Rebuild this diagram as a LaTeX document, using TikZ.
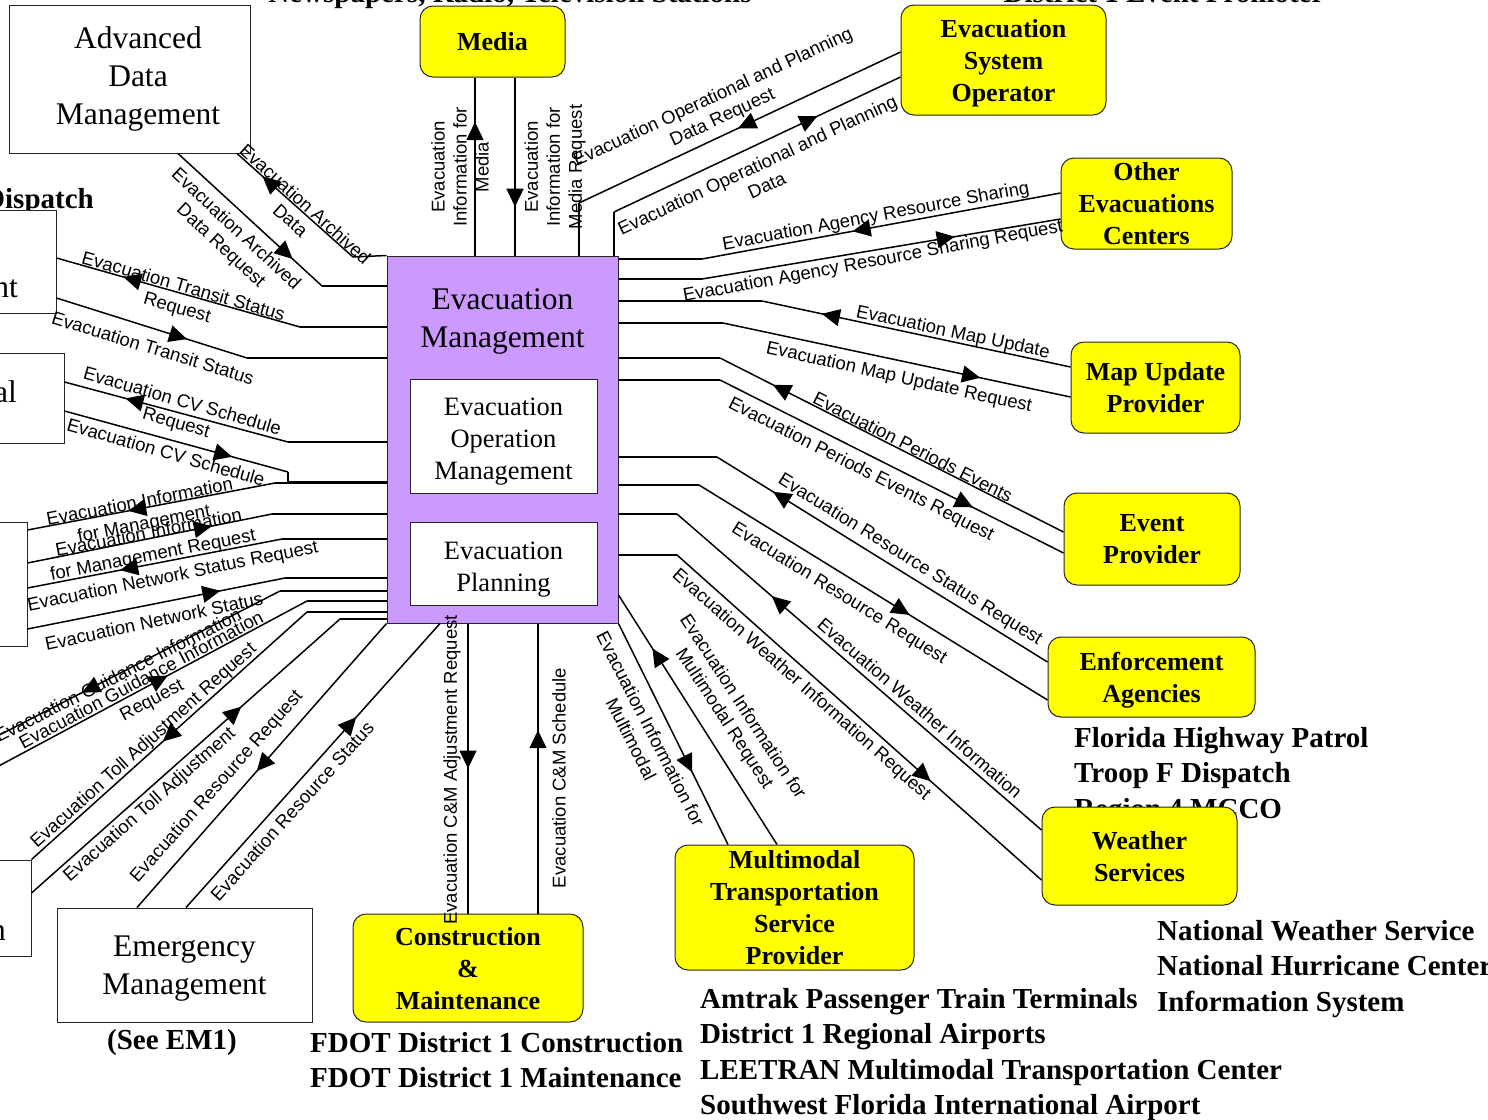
\documentclass[tikz,border=0pt]{standalone}
\usepackage{fontspec}
\setmainfont{Liberation Serif}
\newfontfamily\flowfont{Liberation Sans}
\usetikzlibrary{arrows.meta,decorations.markings}
\definecolor{emviolet}{RGB}{204,153,255}
\definecolor{termyellow}{RGB}{255,255,0}
\begin{document}
\begin{tikzpicture}[x=1pt,y=-1pt,
  flow/.style={line width=1.5pt},
  tipat/.style={postaction={decorate,decoration={markings,mark=at position #1 with {\arrow{Triangle[length=18pt,width=17pt]}}}}},
  sysbox/.style={draw=black!85,line width=1pt,fill=white,inner sep=0pt,align=center,text depth=0pt,font=\fontsize{31.5}{38}\selectfont},
  systitle/.style={inner sep=0pt,align=center,font=\fontsize{31.5}{38}\selectfont},
  subtitle/.style={inner sep=0pt,align=center,font=\fontsize{26.5}{32}\selectfont},
  subbox/.style={draw=black!85,line width=1pt,fill=white,inner sep=0pt},
  termbox/.style={draw=black!85,line width=1pt,fill=termyellow,rounded corners=13pt,inner sep=0pt,align=center,text depth=0pt,font=\bfseries\fontsize{26}{32}\selectfont},
  flowlabel/.style={inner sep=0pt,align=center,font=\flowfont\fontsize{18.5}{22}\selectfont},
  sitelist/.style={inner sep=0pt,align=left,font=\bfseries\fontsize{29}{35.5}\selectfont},
]
\useasboundingbox (0,0) rectangle (1488,1119);
\fill[white] (0,0) rectangle (1488,1119);
\clip (0,0) rectangle (1488,1119);

% ---------- site lists under the terminators ----------
\node[sitelist,anchor=base] (newsp) at (510,2) {Newspapers, Radio, Television Stations};
\node[sitelist,anchor=base] (promo) at (1164,2) {District 1 Event Promoter};
\node[sitelist,anchor=base east] (disp) at (94,208) {Dispatch};
\node[sitelist,anchor=west] (fhp) at (1074,776) {Florida Highway Patrol\\Troop F Dispatch\\Region 4 MCCO};
\node[sitelist,anchor=west] (nws) at (1157,969) {National Weather Service\\National Hurricane Center\\Information System};
\node[sitelist,anchor=west] (amtrak) at (700,1054.5) {Amtrak Passenger Train Terminals\\District 1 Regional Airports\\LEETRAN Multimodal Transportation Center\\Southwest Florida International Airport};
\node[sitelist,anchor=west] (fdot) at (310,1060) {FDOT District 1 Construction\\FDOT District 1 Maintenance};
\node[sitelist] (seeem) at (172,1043) {(See EM1)};

% ---------- subsystems ----------
\node[sysbox,minimum width=241pt,minimum height=148pt] (adm) at (129.5,79) {};
\node[systitle] (admtxt) at (138,79) {Advanced\\Data\\Management};
\node[sysbox,minimum width=255pt,minimum height=114pt] (eman) at (184.5,965) {Emergency\\Management};
\node[sysbox,minimum width=86pt,minimum height=103pt] (lb1) at (13,261.5) {};
\node[sysbox,minimum width=94pt,minimum height=90pt] (lb2) at (17,398) {};
\node[sysbox,minimum width=57pt,minimum height=124pt] (lb3) at (-1.5,584) {};
\node[sysbox,minimum width=61pt,minimum height=96pt] (lb4) at (0.5,908) {};
\node[systitle,anchor=base east] (lb1txt) at (18,297) {nt};
\node[systitle,anchor=base east] (lb2txt) at (17,402) {al};
\node[systitle,anchor=base east] (lb4txt) at (6,940) {n};

\node[draw=black!85,line width=1pt,fill=emviolet,minimum width=231pt,minimum height=367pt,inner sep=0pt] (em) at (502.5,439.5) {};
\node[systitle] (emtitle) at (502.5,321) {Evacuation\\Management};
\node[subbox,minimum width=187pt,minimum height=114pt] (eom) at (503.5,436) {};
\node[subtitle] (eomtxt) at (503.5,442) {Evacuation\\Operation\\Management};
\node[subbox,minimum width=187pt,minimum height=83pt] (epl) at (503.5,563.5) {};
\node[subtitle] (epltxt) at (503.5,569.5) {Evacuation\\Planning};

% ---------- terminators ----------
\node[termbox,minimum width=145pt,minimum height=71pt] (media) at (492.5,41.5) {Media};
\node[termbox,minimum width=205pt,minimum height=110pt] (eso) at (1003.5,60) {Evacuation\\System\\Operator};
\node[termbox,minimum width=171pt,minimum height=91pt] (oec) at (1146.5,203.5) {Other\\Evacuations\\Centers};
\node[termbox,minimum width=169pt,minimum height=91pt] (mup) at (1155.5,387.5) {Map Update\\Provider};
\node[termbox,minimum width=176pt,minimum height=92pt] (evp) at (1152,539) {Event\\Provider};
\node[termbox,minimum width=207pt,minimum height=80pt] (ena) at (1151.5,677) {Enforcement\\Agencies};
\node[termbox,minimum width=195pt,minimum height=98pt] (ws) at (1139.5,856) {Weather\\Services};
\node[termbox,minimum width=239pt,minimum height=125pt] (mtsp) at (794.5,907.5) {Multimodal\\Transportation\\Service\\Provider};
\node[termbox,minimum width=230pt,minimum height=108pt] (cm) at (468,968) {Construction\\\&\\Maintenance};

% ---------- bend points ----------
\coordinate (b3) at (579,203);
\coordinate (b4) at (614,212);
\coordinate (b5) at (702,259);
\coordinate (b6) at (702,279);
\coordinate (b7) at (762,301);
\coordinate (b8) at (723,323);
\coordinate (b9) at (720,358);
\coordinate (b10) at (720,380);
\coordinate (b11) at (717,457);
\coordinate (b12) at (699,485);
\coordinate (b13) at (677,514);
\coordinate (b14) at (677,555);
\coordinate (b21) at (340,619);
\coordinate (b22) at (307,612);
\coordinate (o23) at (-20,776);
\coordinate (b23) at (307,601);
\coordinate (b24) at (280,591);
\coordinate (o24) at (-20,745);
\coordinate (b25) at (285,578);
\coordinate (b26) at (282,539);
\coordinate (b27) at (272,514);
\coordinate (b28) at (275,483);
\coordinate (b29) at (288,472);
\coordinate (b29b) at (288,482);
\coordinate (b30) at (288,442);
\coordinate (b31) at (247,358);
\coordinate (b32) at (300,327);
\coordinate (b33) at (353,257);
\coordinate (b34) at (322,286);

% ---------- flows: top ----------
\draw[flow,tipat=0.75] (em.north -| 475,0) -- (media.south -| 475,0);
\draw[flow,tipat=0.726] (media.south -| 515,0) -- (em.north -| 515,0);
\draw[flow,tipat=0.505] (eso.west |- 0,52) -- (b3);
\draw[flow] (b3) -- (em.north -| b3);
\draw[flow] (em.north -| b4) -- (b4);
\draw[flow,tipat=0.71] (b4) -- (eso.west |- 0,77);

% ---------- flows: right ----------
\draw[flow,tipat=0.58] (oec.west |- 0,193) -- (b5);
\draw[flow] (b5) -- (em.east |- b5);
\draw[flow] (em.east |- b6) -- (b6);
\draw[flow,tipat=0.705] (b6) -- (oec.west |- 0,219);
\draw[flow,tipat=0.806] (mup.west |- 0,367) -- (b7);
\draw[flow] (b7) -- (em.east |- b7);
\draw[flow] (em.east |- b8) -- (b8);
\draw[flow,tipat=0.74] (b8) -- (mup.west |- 0,397);
\draw[flow,tipat=0.846] (evp.west |- 0,532) -- (b9);
\draw[flow] (b9) -- (em.east |- b9);
\draw[flow] (em.east |- b10) -- (b10);
\draw[flow,tipat=0.736] (b10) -- (evp.west |- 0,553);
\draw[flow,tipat=0.83] (ena.west |- 0,662) -- (b11);
\draw[flow] (b11) -- (em.east |- b11);
\draw[flow] (em.east |- b12) -- (b12);
\draw[flow,tipat=0.604] (b12) -- (ena.west |- 0,700);
\draw[flow,tipat=0.74] (ws.west |- 0,830) -- (b13);
\draw[flow] (b13) -- (em.east |- b13);
\draw[flow] (em.east |- b14) -- (b14);
\draw[flow,tipat=0.696] (b14) -- (ws.west |- 0,880);
\draw[flow,tipat=0.786] (mtsp.north -| 777,0) -- (em.east |- 0,595);
\draw[flow,tipat=0.673] (em.south east) -- (mtsp.north -| 728,0);

% ---------- flows: bottom ----------
\draw[flow,tipat=0.50] (em.south -| 468,0) -- (cm.north -| 468,0);
\draw[flow,tipat=0.632] (cm.north -| 538,0) -- (em.south -| 538,0);
\draw[flow,tipat=0.67] (eman.north -| 186,0) -- (em.south -| 440,0);
\draw[flow,tipat=0.52] (em.south west) -- (eman.north -| 137,0);

% ---------- flows: left ----------
\draw[flow,tipat=0.68] (lb4.east |- 0,893) -- (b21);
\draw[flow] (b21) -- (em.west |- b21);
\draw[flow] (em.west |- b22) -- (b22);
\draw[flow,tipat=0.523] (b22) -- (lb4.north east);
\draw[flow,tipat=0.574] (o23) -- (b23);
\draw[flow] (b23) -- (em.west |- b23);
\draw[flow] (em.west |- b24) -- (b24);
\draw[flow,tipat=0.66] (b24) -- (o24);
\draw[flow,tipat=0.749] (lb3.east |- 0,629) -- (b25);
\draw[flow] (b25) -- (em.west |- b25);
\draw[flow] (em.west |- b26) -- (b26);
\draw[flow,tipat=0.636] (b26) -- (lb3.east |- 0,588);
\draw[flow,tipat=0.754] (lb3.east |- 0,563) -- (b27);
\draw[flow] (b27) -- (em.west |- b27);
\draw[flow] (em.west |- b28) -- (b28);
\draw[flow,tipat=0.593] (b28) -- (lb3.east |- 0,530);
\draw[flow,tipat=0.75] (lb2.east |- 0,411) -- (b29);
\draw[flow] (b29) -- (b29b) -- (em.west |- b29b);
\draw[flow] (em.west |- b30) -- (b30);
\draw[flow,tipat=0.727] (b30) -- (lb2.east |- 0,382);
\draw[flow,tipat=0.685] (lb1.east |- 0,298) -- (b31);
\draw[flow] (b31) -- (em.west |- b31);
\draw[flow] (em.west |- b32) -- (b32);
\draw[flow,tipat=0.726] (b32) -- (lb1.east |- 0,258);
\draw[flow] (em.north west) -- (b33);
\draw[flow,tipat=0.78] (b33) -- (adm.south -| 237,0);
\draw[flow,tipat=0.796] (adm.south -| 178,0) -- (b34);
\draw[flow] (b34) -- (em.west |- b34);

% ---------- flow labels ----------
\node[flowlabel,rotate=90] (l1) at (460,167) {Evacuation\\Information for\\Media};
\node[flowlabel,rotate=90] (l2) at (555,167) {Evacuation\\Information for\\Media Request};
\node[flowlabel,rotate=25] (l3) at (718,108) {Evacuation Operational and Planning\\Data Request};
\node[flowlabel,rotate=25] (l4) at (762,175) {Evacuation Operational and Planning\\Data};
\node[flowlabel,rotate=10.5] (l5) at (876,217) {Evacuation Agency Resource Sharing};
\node[flowlabel,rotate=10.5] (l6) at (873,262) {Evacuation Agency Resource Sharing Request};
\node[flowlabel,rotate=-12] (l7) at (953,333) {Evacuation Map Update};
\node[flowlabel,rotate=-12.5] (l8) at (899,378) {Evacuation Map Update Request};
\node[flowlabel,rotate=-27] (l9) at (913,447) {Evacuation Periods Events};
\node[flowlabel,rotate=-27] (l10) at (861,470) {Evacuation Periods Events Request};
\node[flowlabel,rotate=-32] (l11) at (910,560) {Evacuation Resource Status Request};
\node[flowlabel,rotate=-32] (l12) at (839,594) {Evacuation Resource Request};
\node[flowlabel,rotate=-41] (l13) at (920,708) {Evacuation Weather Information};
\node[flowlabel,rotate=-41.5] (l14) at (801,685) {Evacuation Weather Information Request};
\node[flowlabel,rotate=-57] (l15) at (733,713) {Evacuation Information for\\Multimodal Request};
\node[flowlabel,rotate=-63] (l16) at (641,734) {Evacuation Information for\\Multimodal};
\node[flowlabel,rotate=90] (l17) at (452,770) {Evacuation C\&M Adjustment Request};
\node[flowlabel,rotate=90] (l18) at (559,778) {Evacuation C\&M Schedule};
\node[flowlabel,rotate=48] (l19) at (292,811) {Evacuation Resource Status};
\node[flowlabel,rotate=48.5] (l20) at (217,787) {Evacuation Resource Request};
\node[flowlabel,rotate=41.5] (l21) at (150,805) {Evacuation Toll Adjustment};
\node[flowlabel,rotate=42] (l22) at (144,746) {Evacuation Toll Adjustment Request};
\node[flowlabel,rotate=28] (l23) at (147,691) {Evacuation Guidance Information\\Request};
\node[flowlabel,rotate=27] (l24) at (118,675) {Evacuation Guidance Information};
\node[flowlabel,rotate=12] (l25) at (154,621) {Evacuation Network Status};
\node[flowlabel,rotate=11.5] (l26) at (173,577) {Evacuation Network Status Request};
\node[flowlabel,rotate=11] (l27) at (151,545) {Evacuation Information\\for Management Request};
\node[flowlabel,rotate=11] (l28) at (142,514) {Evacuation Information\\for Management};
\node[flowlabel,rotate=-16] (l29) at (166,452) {Evacuation CV Schedule};
\node[flowlabel,rotate=-16] (l30) at (179,413) {Evacuation CV Schedule\\Request};
\node[flowlabel,rotate=-17] (l31) at (153,348) {Evacuation Transit Status};
\node[flowlabel,rotate=-16] (l32) at (180,298) {Evacuation Transit Status\\Request};
\node[flowlabel,rotate=-42] (l33) at (298,212) {Evacuation Archived\\Data};
\node[flowlabel,rotate=-43] (l34) at (228,238) {Evacuation Archived\\Data Request};
\end{tikzpicture}
\end{document}
